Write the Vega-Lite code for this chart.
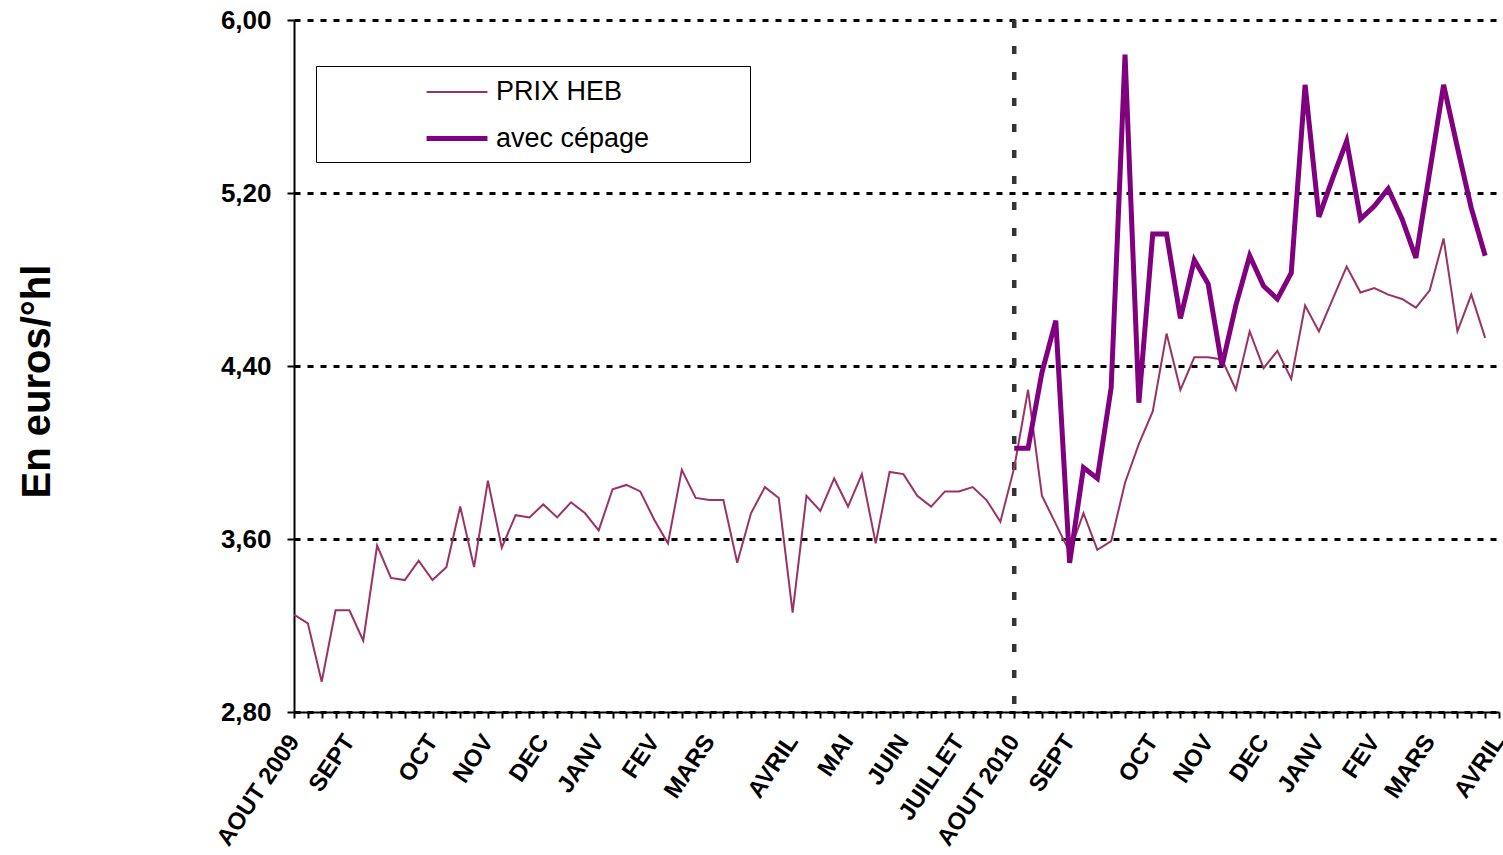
{
  "$schema": "https://vega.github.io/schema/vega-lite/v6.json",
  "width": 1205,
  "height": 692,
  "autosize": {"type": "none"},
  "padding": {"left": 294, "top": 20, "right": 4, "bottom": 143},
  "background": "white",
  "config": {
    "view": {"stroke": null},
    "font": "Liberation Sans"
  },
  "datasets": {
    "prix": [
      {"semaine": 0, "serie": "PRIX HEB", "prix": 3.25},
      {"semaine": 1, "serie": "PRIX HEB", "prix": 3.21},
      {"semaine": 2, "serie": "PRIX HEB", "prix": 2.94},
      {"semaine": 3, "serie": "PRIX HEB", "prix": 3.27},
      {"semaine": 4, "serie": "PRIX HEB", "prix": 3.27},
      {"semaine": 5, "serie": "PRIX HEB", "prix": 3.13},
      {"semaine": 6, "serie": "PRIX HEB", "prix": 3.57},
      {"semaine": 7, "serie": "PRIX HEB", "prix": 3.42},
      {"semaine": 8, "serie": "PRIX HEB", "prix": 3.41},
      {"semaine": 9, "serie": "PRIX HEB", "prix": 3.50},
      {"semaine": 10, "serie": "PRIX HEB", "prix": 3.41},
      {"semaine": 11, "serie": "PRIX HEB", "prix": 3.47},
      {"semaine": 12, "serie": "PRIX HEB", "prix": 3.75},
      {"semaine": 13, "serie": "PRIX HEB", "prix": 3.47},
      {"semaine": 14, "serie": "PRIX HEB", "prix": 3.87},
      {"semaine": 15, "serie": "PRIX HEB", "prix": 3.56},
      {"semaine": 16, "serie": "PRIX HEB", "prix": 3.71},
      {"semaine": 17, "serie": "PRIX HEB", "prix": 3.70},
      {"semaine": 18, "serie": "PRIX HEB", "prix": 3.76},
      {"semaine": 19, "serie": "PRIX HEB", "prix": 3.70},
      {"semaine": 20, "serie": "PRIX HEB", "prix": 3.77},
      {"semaine": 21, "serie": "PRIX HEB", "prix": 3.72},
      {"semaine": 22, "serie": "PRIX HEB", "prix": 3.64},
      {"semaine": 23, "serie": "PRIX HEB", "prix": 3.83},
      {"semaine": 24, "serie": "PRIX HEB", "prix": 3.85},
      {"semaine": 25, "serie": "PRIX HEB", "prix": 3.82},
      {"semaine": 26, "serie": "PRIX HEB", "prix": 3.69},
      {"semaine": 27, "serie": "PRIX HEB", "prix": 3.58},
      {"semaine": 28, "serie": "PRIX HEB", "prix": 3.92},
      {"semaine": 29, "serie": "PRIX HEB", "prix": 3.79},
      {"semaine": 30, "serie": "PRIX HEB", "prix": 3.78},
      {"semaine": 31, "serie": "PRIX HEB", "prix": 3.78},
      {"semaine": 32, "serie": "PRIX HEB", "prix": 3.49},
      {"semaine": 33, "serie": "PRIX HEB", "prix": 3.72},
      {"semaine": 34, "serie": "PRIX HEB", "prix": 3.84},
      {"semaine": 35, "serie": "PRIX HEB", "prix": 3.79},
      {"semaine": 36, "serie": "PRIX HEB", "prix": 3.26},
      {"semaine": 37, "serie": "PRIX HEB", "prix": 3.80},
      {"semaine": 38, "serie": "PRIX HEB", "prix": 3.73},
      {"semaine": 39, "serie": "PRIX HEB", "prix": 3.88},
      {"semaine": 40, "serie": "PRIX HEB", "prix": 3.75},
      {"semaine": 41, "serie": "PRIX HEB", "prix": 3.90},
      {"semaine": 42, "serie": "PRIX HEB", "prix": 3.58},
      {"semaine": 43, "serie": "PRIX HEB", "prix": 3.91},
      {"semaine": 44, "serie": "PRIX HEB", "prix": 3.90},
      {"semaine": 45, "serie": "PRIX HEB", "prix": 3.80},
      {"semaine": 46, "serie": "PRIX HEB", "prix": 3.75},
      {"semaine": 47, "serie": "PRIX HEB", "prix": 3.82},
      {"semaine": 48, "serie": "PRIX HEB", "prix": 3.82},
      {"semaine": 49, "serie": "PRIX HEB", "prix": 3.84},
      {"semaine": 50, "serie": "PRIX HEB", "prix": 3.78},
      {"semaine": 51, "serie": "PRIX HEB", "prix": 3.68},
      {"semaine": 52, "serie": "PRIX HEB", "prix": 3.93},
      {"semaine": 53, "serie": "PRIX HEB", "prix": 4.29},
      {"semaine": 54, "serie": "PRIX HEB", "prix": 3.80},
      {"semaine": 55, "serie": "PRIX HEB", "prix": 3.67},
      {"semaine": 56, "serie": "PRIX HEB", "prix": 3.54},
      {"semaine": 57, "serie": "PRIX HEB", "prix": 3.72},
      {"semaine": 58, "serie": "PRIX HEB", "prix": 3.55},
      {"semaine": 59, "serie": "PRIX HEB", "prix": 3.59},
      {"semaine": 60, "serie": "PRIX HEB", "prix": 3.86},
      {"semaine": 61, "serie": "PRIX HEB", "prix": 4.04},
      {"semaine": 62, "serie": "PRIX HEB", "prix": 4.19},
      {"semaine": 63, "serie": "PRIX HEB", "prix": 4.55},
      {"semaine": 64, "serie": "PRIX HEB", "prix": 4.29},
      {"semaine": 65, "serie": "PRIX HEB", "prix": 4.44},
      {"semaine": 66, "serie": "PRIX HEB", "prix": 4.44},
      {"semaine": 67, "serie": "PRIX HEB", "prix": 4.43},
      {"semaine": 68, "serie": "PRIX HEB", "prix": 4.29},
      {"semaine": 69, "serie": "PRIX HEB", "prix": 4.56},
      {"semaine": 70, "serie": "PRIX HEB", "prix": 4.39},
      {"semaine": 71, "serie": "PRIX HEB", "prix": 4.47},
      {"semaine": 72, "serie": "PRIX HEB", "prix": 4.34},
      {"semaine": 73, "serie": "PRIX HEB", "prix": 4.68},
      {"semaine": 74, "serie": "PRIX HEB", "prix": 4.56},
      {"semaine": 75, "serie": "PRIX HEB", "prix": 4.71},
      {"semaine": 76, "serie": "PRIX HEB", "prix": 4.86},
      {"semaine": 77, "serie": "PRIX HEB", "prix": 4.74},
      {"semaine": 78, "serie": "PRIX HEB", "prix": 4.76},
      {"semaine": 79, "serie": "PRIX HEB", "prix": 4.73},
      {"semaine": 80, "serie": "PRIX HEB", "prix": 4.71},
      {"semaine": 81, "serie": "PRIX HEB", "prix": 4.67},
      {"semaine": 82, "serie": "PRIX HEB", "prix": 4.75},
      {"semaine": 83, "serie": "PRIX HEB", "prix": 4.99},
      {"semaine": 84, "serie": "PRIX HEB", "prix": 4.56},
      {"semaine": 85, "serie": "PRIX HEB", "prix": 4.73},
      {"semaine": 86, "serie": "PRIX HEB", "prix": 4.53},
      {"semaine": 52, "serie": "avec cépage", "prix": 4.02},
      {"semaine": 53, "serie": "avec cépage", "prix": 4.02},
      {"semaine": 54, "serie": "avec cépage", "prix": 4.37},
      {"semaine": 55, "serie": "avec cépage", "prix": 4.61},
      {"semaine": 56, "serie": "avec cépage", "prix": 3.49},
      {"semaine": 57, "serie": "avec cépage", "prix": 3.93},
      {"semaine": 58, "serie": "avec cépage", "prix": 3.88},
      {"semaine": 59, "serie": "avec cépage", "prix": 4.30},
      {"semaine": 60, "serie": "avec cépage", "prix": 5.84},
      {"semaine": 61, "serie": "avec cépage", "prix": 4.23},
      {"semaine": 62, "serie": "avec cépage", "prix": 5.01},
      {"semaine": 63, "serie": "avec cépage", "prix": 5.01},
      {"semaine": 64, "serie": "avec cépage", "prix": 4.62},
      {"semaine": 65, "serie": "avec cépage", "prix": 4.89},
      {"semaine": 66, "serie": "avec cépage", "prix": 4.78},
      {"semaine": 67, "serie": "avec cépage", "prix": 4.40},
      {"semaine": 68, "serie": "avec cépage", "prix": 4.68},
      {"semaine": 69, "serie": "avec cépage", "prix": 4.91},
      {"semaine": 70, "serie": "avec cépage", "prix": 4.77},
      {"semaine": 71, "serie": "avec cépage", "prix": 4.71},
      {"semaine": 72, "serie": "avec cépage", "prix": 4.83},
      {"semaine": 73, "serie": "avec cépage", "prix": 5.70},
      {"semaine": 74, "serie": "avec cépage", "prix": 5.09},
      {"semaine": 75, "serie": "avec cépage", "prix": 5.27},
      {"semaine": 76, "serie": "avec cépage", "prix": 5.44},
      {"semaine": 77, "serie": "avec cépage", "prix": 5.08},
      {"semaine": 78, "serie": "avec cépage", "prix": 5.14},
      {"semaine": 79, "serie": "avec cépage", "prix": 5.22},
      {"semaine": 80, "serie": "avec cépage", "prix": 5.08},
      {"semaine": 81, "serie": "avec cépage", "prix": 4.90},
      {"semaine": 82, "serie": "avec cépage", "prix": 5.30},
      {"semaine": 83, "serie": "avec cépage", "prix": 5.70},
      {"semaine": 84, "serie": "avec cépage", "prix": 5.41},
      {"semaine": 85, "serie": "avec cépage", "prix": 5.13},
      {"semaine": 86, "serie": "avec cépage", "prix": 4.91}
    ],
    "repere": [{"semaine": 52}]
  },
  "layer": [
    {
      "data": {"name": "repere"},
      "mark": {"type": "rule", "color": "#333333", "strokeWidth": 4.5, "strokeDash": [8, 18]},
      "encoding": {
        "x": {"field": "semaine", "type": "quantitative", "scale": {"domain": [0, 87], "nice": false, "zero": false}},
        "y": {"datum": 6},
        "y2": {"datum": 2.8}
      }
    },
    {
      "data": {"name": "prix"},
      "mark": {"type": "line", "strokeJoin": "miter", "clip": true},
      "encoding": {
        "x": {
          "field": "semaine",
          "type": "quantitative",
          "scale": {"domain": [0, 87], "nice": false, "zero": false},
          "axis": {
            "title": null,
            "values": [0,1,2,3,4,5,6,7,8,9,10,11,12,13,14,15,16,17,18,19,20,21,22,23,24,25,26,27,28,29,30,31,32,33,34,35,36,37,38,39,40,41,42,43,44,45,46,47,48,49,50,51,52,53,54,55,56,57,58,59,60,61,62,63,64,65,66,67,68,69,70,71,72,73,74,75,76,77,78,79,80,81,82,83,84,85,86,87],
            "tickCount": 200,
            "labelExpr": "['AOUT 2009','SEPT','OCT','NOV','DEC','JANV','FEV','MARS','AVRIL','MAI','JUIN','JUILLET','AOUT 2010','SEPT','OCT','NOV','DEC','JANV','FEV','MARS','AVRIL'][indexof([0,4,10,14,18,22,26,30,36,40,44,48,52,56,62,66,70,74,78,82,87], datum.value)] || ''",
            "labelAngle": -56,
            "labelAlign": "right",
            "labelBaseline": "middle",
            "labelPadding": 19,
            "labelOverlap": false,
            "labelFont": "Liberation Sans",
            "labelFontWeight": "bold",
            "labelFontSize": 24,
            "labelColor": "black",
            "labelFlush": false,
            "labelBound": false,
            "grid": false,
            "domainColor": "black",
            "domainWidth": 2,
            "tickColor": "black",
            "tickWidth": 2,
            "tickSize": 6,
            "encode": {"ticks": {"update": {"y": {"value": -6}, "y2": {"value": 6}}}}
          }
        },
        "y": {
          "field": "prix",
          "type": "quantitative",
          "scale": {"domain": [2.8, 6.0], "nice": false, "zero": false},
          "axis": {
            "title": "En euros/°hl",
            "titleFont": "Liberation Sans",
            "titleFontWeight": "bold",
            "titleFontSize": 40,
            "titleColor": "black",
            "titleAngle": -90,
            "titleX": -257,
            "titleY": 361,
            "titleAlign": "center",
            "titleBaseline": "middle",
            "values": [2.8, 3.6, 4.4, 5.2, 6.0],
            "format": ".2f",
            "labelExpr": "replace(datum.label, '.', ',')",
            "labelFont": "Liberation Sans",
            "labelFontWeight": "bold",
            "labelFontSize": 26,
            "labelColor": "black",
            "labelPadding": 16,
            "labelFlush": false,
            "grid": true,
            "gridColor": "black",
            "gridWidth": 3,
            "gridDash": [6, 7],
            "domainColor": "black",
            "domainWidth": 2,
            "tickColor": "black",
            "tickWidth": 2,
            "tickSize": 7,
            "encode": {"ticks": {"update": {"x": {"value": -8}, "x2": {"value": 7}}}}
          }
        },
        "color": {
          "field": "serie",
          "type": "nominal",
          "scale": {"domain": ["PRIX HEB", "avec cépage"], "range": ["#993366", "#800080"]},
          "legend": {
            "title": null,
            "orient": "none",
            "legendX": 22,
            "legendY": 46,
            "symbolType": "M-2.03,0L2.03,0",
            "symbolSize": 900,
            "symbolFillColor": "transparent",
            "labelFont": "Liberation Sans",
            "labelFontSize": 27,
            "labelColor": "black",
            "labelOffset": 21.5,
            "labelLimit": 500,
            "labelExpr": "datum.label + '            \u200b'",
            "fillColor": "white",
            "strokeColor": "black",
            "padding": 10,
            "rowPadding": 16,
            "symbolOffset": 113.5
          }
        },
        "strokeWidth": {
          "field": "serie",
          "type": "nominal",
          "scale": {"domain": ["PRIX HEB", "avec cépage"], "range": [2, 5]},
          "legend": {
            "title": null,
            "orient": "none",
            "legendX": 22,
            "legendY": 46,
            "symbolType": "M-2.03,0L2.03,0",
            "symbolSize": 900,
            "symbolFillColor": "transparent",
            "labelFont": "Liberation Sans",
            "labelFontSize": 27,
            "labelColor": "black",
            "labelOffset": 21.5,
            "labelLimit": 500,
            "labelExpr": "datum.label + '            \u200b'",
            "fillColor": "white",
            "strokeColor": "black",
            "padding": 10,
            "rowPadding": 16,
            "symbolOffset": 113.5
          }
        }
      }
    }
  ]
}
